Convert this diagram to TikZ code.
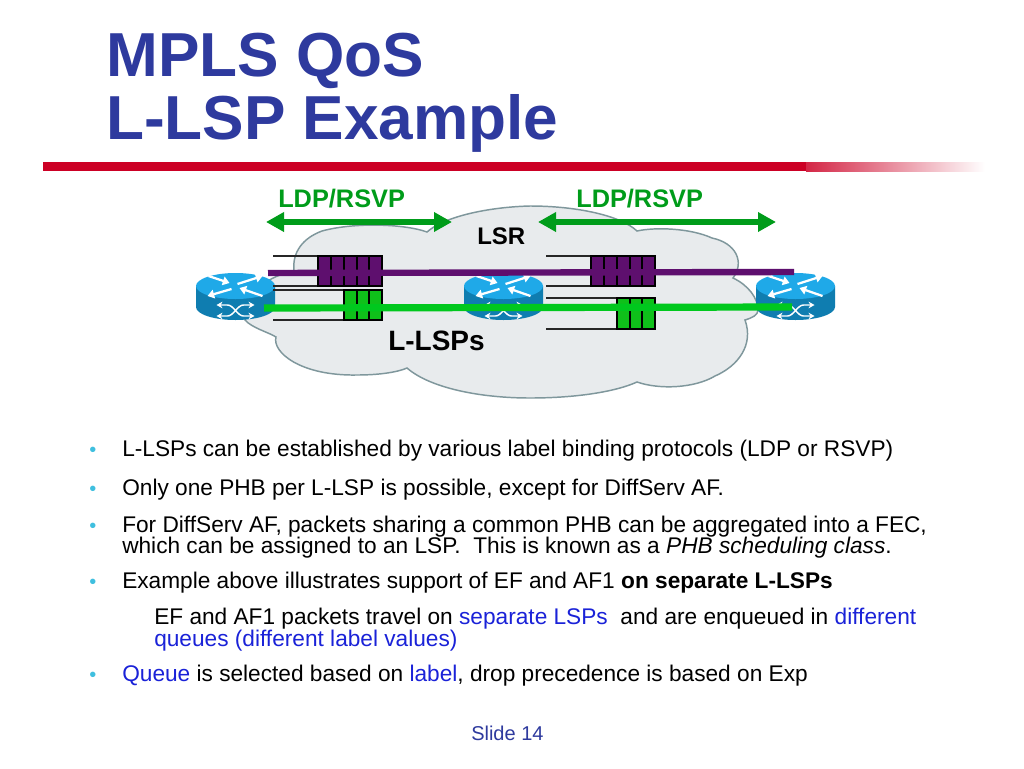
\documentclass[tikz,border=0pt]{standalone}
\usepackage{fontspec}
\setmainfont{Liberation Sans}
\usetikzlibrary{arrows.meta}
\definecolor{titleblue}{HTML}{2E3A9E}
\definecolor{barred}{HTML}{CC0025}
\definecolor{cloudfill}{HTML}{E8EBED}
\definecolor{cloudline}{HTML}{7F979C}
\definecolor{arrowgreen}{HTML}{009C1A}
\definecolor{qpurple}{HTML}{5E0F6E}
\definecolor{qgreen}{HTML}{0FC01A}
\definecolor{lspgreen}{HTML}{00C81E}
\definecolor{rtop}{HTML}{1FA9E8}
\definecolor{rside}{HTML}{0F7DB0}
\definecolor{bulletblue}{HTML}{3FBFDF}
\definecolor{linkblue}{HTML}{1A22D8}
\tikzset{
  x=0.75pt,y=-0.75pt,
  titletext/.style={anchor=base west,inner sep=0pt,font=\fontsize{46.6}{50}\selectfont\bfseries,text=titleblue},
  body/.style={anchor=base west,inner sep=0pt,font=\fontsize{17}{20}\selectfont,text=black},
  bulletmark/.style={anchor=base west,inner sep=0pt,font=\fontsize{15}{18}\selectfont,text=bulletblue},
  proto/.style={anchor=base west,inner sep=0pt,font=\fontsize{19}{22}\selectfont\bfseries,text=arrowgreen},
  bigarrow/.style={draw=arrowgreen,line width=5pt,{Triangle[length=13.5pt,width=14pt]}-{Triangle[length=13.5pt,width=14pt]}},
  qline/.style={draw=black!85,line width=0.9pt},
  qbox/.style={draw=black,line width=0.9pt},
  lsppurple/.style={draw=qpurple,line width=4.8pt},
  lspgreenline/.style={draw=lspgreen,line width=5.4pt},
  rarrow/.style={draw=white,line width=1.7pt,-{Triangle[length=5pt,width=6.5pt]}},
  rthin/.style={draw=white,line width=1.1pt,{Stealth[length=4.5pt,width=5pt]}-{Stealth[length=4.5pt,width=5pt]}},
  pics/routerbox/.style={code={
    \fill[rside] (-39.5,13) -- (-39.5,34) arc[x radius=39.5,y radius=13,start angle=180,end angle=0] -- (39.5,13) -- cycle;
    \fill[rtop] (0,13) ellipse[x radius=39.5,y radius=13];
    \draw[rarrow] (-27,3) -- (-6,10);
    \draw[rarrow] (2,11) -- (27,3);
    \draw[rarrow] (-4,16) -- (-28,23);
    \draw[rarrow] (27,23) -- (4,15);
    \draw[rthin] (-19,32) -- (-8,32) .. controls (-2,32) and (2,43) .. (8,43) -- (19,43);
    \draw[rthin] (-19,43) -- (-8,43) .. controls (-2,43) and (2,32) .. (8,32) -- (19,32);
  }}
}
\begin{document}
\begin{tikzpicture}
\useasboundingbox (0,0) rectangle (1024,768);
\fill[white] (0,0) rectangle (1024,768);

% title and rule
\node[titletext] (t1) at (106,76) {MPLS QoS};
\node[titletext] (t2) at (106,139) {L-LSP Example};
\fill[barred] (43,162) rectangle (806,171);
\shade[left color=barred!85!white,right color=white] (806,162) rectangle (985,171);

% cloud
\path[fill=cloudfill,draw=cloudline,line width=1.1pt]
  (427,232) .. controls (405,224) and (355,222) .. (322,231)
  .. controls (303,238) and (292,252) .. (294,271)
  .. controls (270,276) and (245,290) .. (245,320)
  .. controls (252,328) and (268,332) .. (276,337)
  .. controls (272,352) and (300,376) .. (357,375)
  .. controls (380,375) and (398,372) .. (407,368)
  .. controls (430,388) and (480,398) .. (530,398)
  .. controls (575,398) and (615,392) .. (637,382)
  .. controls (660,390) and (695,388) .. (715,376)
  .. controls (738,366) and (754,345) .. (745,320)
  .. controls (752,318) and (758,315) .. (758,310)
  .. controls (758,298) and (748,285) .. (733,278)
  .. controls (745,262) and (736,243) .. (712,238)
  .. controls (690,228) and (655,227) .. (637,231)
  .. controls (620,215) and (575,206) .. (530,206)
  .. controls (490,207) and (445,216) .. (427,232) -- cycle;

% routers
\pic (r1) at (235.5,273) {routerbox};
\pic (r2) at (503.5,273) {routerbox};
\pic (r3) at (795.5,273) {routerbox};

% queues
\coordinate (pa1) at (273,256); \coordinate (pa2) at (318,256);
\coordinate (pb1) at (273,286); \coordinate (pb2) at (318,286);
\coordinate (ga1) at (273,290); \coordinate (ga2) at (344,290);
\coordinate (gb1) at (273,320); \coordinate (gb2) at (344,320);
\draw[qline] (pa1) -- (pa2) (pb1) -- (pb2) (ga1) -- (ga2) (gb1) -- (gb2);
\filldraw[qbox,fill=qpurple] (318,256) rectangle (382,286);
\draw[qbox] (331,256) -- (331,286) (344,256) -- (344,286) (357,256) -- (357,286) (369,256) -- (369,286);
\filldraw[qbox,fill=qgreen] (344,290) rectangle (382,320);
\draw[qbox] (357,290) -- (357,320) (369,290) -- (369,320);

\coordinate (qa1) at (546,256); \coordinate (qa2) at (591,256);
\coordinate (qb1) at (546,286); \coordinate (qb2) at (591,286);
\coordinate (ha1) at (546,298); \coordinate (ha2) at (617,298);
\coordinate (hb1) at (546,329); \coordinate (hb2) at (617,329);
\draw[qline] (qa1) -- (qa2) (qb1) -- (qb2) (ha1) -- (ha2) (hb1) -- (hb2);
\filldraw[qbox,fill=qpurple] (591,256) rectangle (655,286);
\draw[qbox] (604,256) -- (604,286) (617,256) -- (617,286) (630,256) -- (630,286) (642,256) -- (642,286);
\filldraw[qbox,fill=qgreen] (617,298) rectangle (655,329);
\draw[qbox] (630,298) -- (630,329) (642,298) -- (642,329);

% L-LSP lines
\coordinate (ps) at (268,273); \coordinate (pe) at (794,272);
\coordinate (gs) at (264,308); \coordinate (ge) at (792,307);
\draw[lsppurple] (ps) -- (pe);
\draw[lspgreenline] (gs) -- (ge);

% protocol spans
\coordinate (s1a) at (266,222); \coordinate (s1b) at (452,222);
\coordinate (s2a) at (538,222); \coordinate (s2b) at (776,222);
\draw[bigarrow] (s1a) -- (s1b);
\draw[bigarrow] (s2a) -- (s2b);
\node[proto] (ldp1) at (278,207) {LDP/RSVP};
\node[proto] (ldp2) at (576,207) {LDP/RSVP};
\node[anchor=base west,inner sep=0pt,font=\fontsize{18}{20}\selectfont\bfseries] (lsr) at (477,244) {LSR};
\node[anchor=base west,inner sep=0pt,font=\fontsize{21}{22}\selectfont\bfseries] (llsps) at (388,350) {L-LSPs};

% bullets
\node[bulletmark] (b1) at (89,456) {•};
\node[bulletmark] (b2) at (89,495) {•};
\node[bulletmark] (b3) at (89,532) {•};
\node[bulletmark] (b4) at (89,588) {•};
\node[bulletmark] (b5) at (89,681) {•};

\node[body] (l1) at (122,456) {L-LSPs can be established by various label binding protocols (LDP or RSVP)};
\node[body] (l2) at (122,495) {Only one PHB per L-LSP is possible, except for DiffServ AF.};
\node[body] (l3) at (122,532) {For DiffServ AF, packets sharing a common PHB can be aggregated into a FEC,};
\node[body] (l4) at (122,553) {which can be assigned to an LSP.\ \ This is known as a \textit{PHB scheduling class}.};
\node[body] (l5) at (122,588) {Example above illustrates support of EF and AF1 \textbf{on separate L-LSPs}};
\node[body] (l6) at (154,624) {EF and AF1 packets travel on \textcolor{linkblue}{separate LSPs}\ \ and are enqueued in \textcolor{linkblue}{different}};
\node[body] (l7) at (154,646) {\textcolor{linkblue}{queues (different label values)}};
\node[body] (l8) at (122,681) {\textcolor{linkblue}{Queue} is selected based on \textcolor{linkblue}{label}, drop precedence is based on Exp};

\node[anchor=base west,inner sep=0pt,font=\fontsize{15}{16}\selectfont,text=titleblue] (slide) at (471,740) {Slide 14};
\end{tikzpicture}
\end{document}
